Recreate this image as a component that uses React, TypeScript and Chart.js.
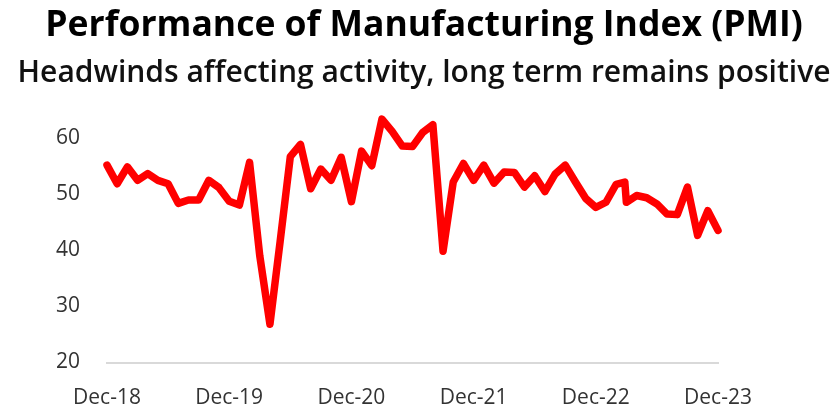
import React, { useEffect, useRef } from "react";
import { Chart, registerables } from "chart.js";

Chart.register(...registerables);

// Month offsets from Dec-18 (two readings plotted for Mar-23)
const monthOffset: number[] = [
  0, 1, 2, 3, 4, 5, 6, 7, 8, 9, 10, 11,
  12, 13, 14, 15, 16, 17, 18, 19, 20, 21, 22, 23,
  24, 25, 26, 27, 28, 29, 30, 31, 32, 33, 34, 35,
  36, 37, 38, 39, 40, 41, 42, 43, 44, 45, 46, 47,
  48, 49, 50, 50.85, 51, 52, 53, 54, 55, 56, 57, 58, 59, 60,
];

const pmi: number[] = [
  55.1, 51.8, 54.8, 52.4, 53.6, 52.4, 51.8, 48.3, 48.9, 48.9, 52.4, 51.1,
  48.7, 48.0, 55.6, 39.0, 26.8, 41.5, 56.6, 58.8, 50.9, 54.4, 52.4, 56.5,
  48.6, 57.6, 55.0, 63.3, 61.1, 58.5, 58.4, 60.9, 62.3, 39.8, 52.1, 55.4,
  52.4, 55.1, 51.9, 53.9, 53.8, 51.2, 53.2, 50.4, 53.5, 55.1, 52.1, 49.2,
  47.6, 48.5, 51.7, 52.1, 48.5, 49.7, 49.3, 48.2, 46.4, 46.3, 51.2, 42.6, 47.0, 43.5,
];

const xTickLabels: string[] = ["Dec-18", "Dec-19", "Dec-20", "Dec-21", "Dec-22", "Dec-23"];
const yTicks: number[] = [20, 30, 40, 50, 60];

const titleText = "Performance of Manufacturing Index (PMI)";
const subtitleText = "Headwinds affecting activity, long term remains positive";

const FONT = "'Open Sans', 'Noto Sans', sans-serif";

export default function App() {
  const ref = useRef<HTMLCanvasElement | null>(null);

  useEffect(() => {
    document.body.style.margin = "0";
    const canvas = ref.current;
    if (!canvas) return;
    const points = pmi.map((v, i) => ({ x: monthOffset[i], y: v }));
    const chart = new Chart(canvas, {
      type: "line",
      data: {
        datasets: [
          {
            data: points,
            borderColor: "#ff0000",
            backgroundColor: "#ff0000",
            borderWidth: 7.5,
            pointRadius: 0,
            tension: 0,
            borderJoinStyle: "round",
            borderCapStyle: "round",
            clip: false,
            xAxisID: "x",
            yAxisID: "y",
          } as any,
        ],
      },
      options: {
        responsive: false,
        animation: false,
        layout: { padding: { left: 15, right: 0, top: 0, bottom: 0 } },
        plugins: {
          legend: { display: false },
          tooltip: { enabled: false },
          title: {
            display: true,
            text: titleText,
            color: "#000000",
            font: { family: FONT, size: 35.5, weight: "bold" },
            padding: { top: 5, bottom: 4 },
          },
          subtitle: {
            display: true,
            text: subtitleText,
            color: "#111111",
            font: { family: FONT, size: 30, weight: 600 },
            padding: { top: 4, bottom: 46 },
          },
        },
        scales: {
          x: {
            type: "linear",
            min: 0,
            max: 60,
            afterBuildTicks: (scale: any) => {
              scale.ticks = xTickLabels.map((_, i) => ({ value: i * 12 }));
            },
            afterFit: (scale: any) => {
              scale.height = 46.5;
            },
            grid: { display: false, drawTicks: false },
            border: { display: true, color: "#d9d9d9", width: 2 },
            ticks: {
              color: "#333333",
              font: { family: FONT, size: 21 },
              padding: 23,
              maxRotation: 0,
              autoSkip: false,
              callback: (v: any) => xTickLabels[Math.round(Number(v) / 12)] ?? "",
            },
          },
          y: {
            position: "left",
            min: 20,
            max: 60,
            afterBuildTicks: (scale: any) => {
              scale.ticks = yTicks.map((v) => ({ value: v }));
            },
            afterFit: (scale: any) => {
              scale.width = 92;
            },
            grid: { display: false, drawTicks: false },
            border: { display: false },
            ticks: {
              color: "#333333",
              font: { family: FONT, size: 21 },
              padding: 27,
            },
          },
          yRightSpace: {
            position: "right",
            display: true,
            afterFit: (scale: any) => {
              scale.width = 115;
            },
            grid: { display: false, drawTicks: false },
            border: { display: false },
            ticks: { display: false },
          },
        },
      },
    });
    return () => chart.destroy();
  }, []);

  return (
    <div style={{ width: 833, height: 409 }}>
      <canvas ref={ref} width={833} height={409} style={{ display: "block" }} />
    </div>
  );
}
